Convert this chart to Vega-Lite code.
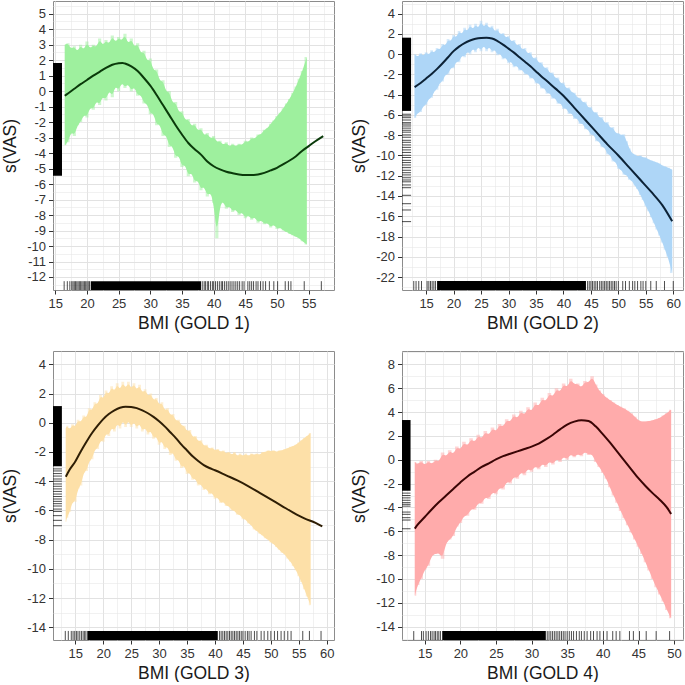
{
"$schema": "https://vega.github.io/schema/vega-lite/v6.json",
"padding": 0,
"background": "white",
"columns": 2,
"spacing": {"row": 18, "column": 14},
"config": {
  "view": {"stroke": "#8c8c8c", "strokeWidth": 1},
  "axis": {"labelFont": "Liberation Sans", "labelFontSize": 13, "labelColor": "#333333", "titleFont": "Liberation Sans", "titleFontSize": 17.5, "titleFontWeight": "normal", "titleColor": "#1a1a1a", "tickColor": "#333333", "domain": false, "gridColor": "#e2e2e2", "labelOverlap": false, "labelFlush": false, "labelBound": false},
  "axisY": {"minExtent": 31, "maxExtent": 31, "titlePadding": 3, "labelPadding": 3, "tickSize": 4.5},
  "axisX": {"titlePadding": 4, "labelPadding": 3, "tickSize": 4}
},
"datasets": {
  "band": [
    {"g":1,"x":16.5,"hi":3.0,"lo":-3.5},{"g":1,"x":17.0,"hi":3.1,"lo":-3.3},{"g":1,"x":17.5,"hi":2.7,"lo":-2.6},{"g":1,"x":18.0,"hi":2.9,"lo":-2.9},{"g":1,"x":18.5,"hi":2.5,"lo":-2.2},{"g":1,"x":19.0,"hi":3.0,"lo":-2.0},{"g":1,"x":19.5,"hi":2.6,"lo":-1.5},{"g":1,"x":20.0,"hi":3.2,"lo":-1.7},{"g":1,"x":20.5,"hi":2.7,"lo":-1.0},{"g":1,"x":21.0,"hi":3.0,"lo":-1.2},{"g":1,"x":21.5,"hi":2.8,"lo":-0.6},{"g":1,"x":22.0,"hi":3.4,"lo":-0.9},{"g":1,"x":22.5,"hi":2.9,"lo":-0.3},{"g":1,"x":23.0,"hi":3.3,"lo":-0.6},{"g":1,"x":23.5,"hi":3.0,"lo":0.1},{"g":1,"x":24.0,"hi":3.6,"lo":-0.4},{"g":1,"x":24.5,"hi":3.1,"lo":0.4},{"g":1,"x":25.0,"hi":3.5,"lo":0.0},{"g":1,"x":25.5,"hi":3.2,"lo":0.6},{"g":1,"x":26.0,"hi":3.7,"lo":0.2},{"g":1,"x":26.5,"hi":3.0,"lo":0.5},{"g":1,"x":27.0,"hi":3.4,"lo":0.0},{"g":1,"x":27.5,"hi":2.8,"lo":0.3},{"g":1,"x":28.0,"hi":3.1,"lo":-0.3},{"g":1,"x":28.5,"hi":2.4,"lo":-0.2},{"g":1,"x":29.0,"hi":2.6,"lo":-0.8},{"g":1,"x":29.5,"hi":1.9,"lo":-0.8},{"g":1,"x":30.0,"hi":2.1,"lo":-1.5},{"g":1,"x":30.5,"hi":1.3,"lo":-1.4},{"g":1,"x":31.0,"hi":1.4,"lo":-2.2},{"g":1,"x":31.5,"hi":0.6,"lo":-2.1},{"g":1,"x":32.0,"hi":0.7,"lo":-2.9},{"g":1,"x":32.5,"hi":-0.1,"lo":-2.8},{"g":1,"x":33.0,"hi":0.0,"lo":-3.6},{"g":1,"x":33.5,"hi":-0.8,"lo":-3.5},{"g":1,"x":34.0,"hi":-0.7,"lo":-4.3},{"g":1,"x":34.5,"hi":-1.4,"lo":-4.1},{"g":1,"x":35.0,"hi":-1.3,"lo":-4.9},{"g":1,"x":35.5,"hi":-1.9,"lo":-4.7},{"g":1,"x":36.0,"hi":-1.8,"lo":-5.5},{"g":1,"x":36.5,"hi":-2.3,"lo":-5.2},{"g":1,"x":37.0,"hi":-2.1,"lo":-5.9},{"g":1,"x":37.5,"hi":-2.6,"lo":-5.7},{"g":1,"x":38.0,"hi":-2.4,"lo":-6.4},{"g":1,"x":38.5,"hi":-2.9,"lo":-6.1},{"g":1,"x":39.0,"hi":-2.7,"lo":-6.8},{"g":1,"x":39.5,"hi":-3.1,"lo":-6.5},{"g":1,"x":40.0,"hi":-2.9,"lo":-7.2},{"g":1,"x":40.5,"hi":-3.3,"lo":-9.5},{"g":1,"x":41.0,"hi":-3.2,"lo":-7.3},{"g":1,"x":41.5,"hi":-3.5,"lo":-7.1},{"g":1,"x":42.0,"hi":-3.3,"lo":-7.6},{"g":1,"x":42.5,"hi":-3.6,"lo":-7.4},{"g":1,"x":43.0,"hi":-3.4,"lo":-7.8},{"g":1,"x":43.5,"hi":-3.6,"lo":-7.6},{"g":1,"x":44.0,"hi":-3.4,"lo":-8.0},{"g":1,"x":44.5,"hi":-3.5,"lo":-7.8},{"g":1,"x":45.0,"hi":-3.2,"lo":-8.2},{"g":1,"x":45.5,"hi":-3.3,"lo":-8.0},{"g":1,"x":46.0,"hi":-3.0,"lo":-8.3},{"g":1,"x":46.5,"hi":-3.1,"lo":-8.1},{"g":1,"x":47.0,"hi":-2.8,"lo":-8.5},{"g":1,"x":47.5,"hi":-2.8,"lo":-8.3},{"g":1,"x":48.0,"hi":-2.5,"lo":-8.6},{"g":1,"x":48.5,"hi":-2.4,"lo":-8.5},{"g":1,"x":49.0,"hi":-2.1,"lo":-8.8},{"g":1,"x":49.5,"hi":-1.9,"lo":-8.6},{"g":1,"x":50.0,"hi":-1.6,"lo":-8.9},{"g":1,"x":50.5,"hi":-1.4,"lo":-8.8},{"g":1,"x":51.0,"hi":-1.1,"lo":-9.0},{"g":1,"x":51.5,"hi":-0.8,"lo":-9.1},{"g":1,"x":52.0,"hi":-0.5,"lo":-9.2},{"g":1,"x":52.5,"hi":-0.1,"lo":-9.3},{"g":1,"x":53.0,"hi":0.3,"lo":-9.4},{"g":1,"x":53.5,"hi":0.8,"lo":-9.5},{"g":1,"x":54.0,"hi":1.3,"lo":-9.7},{"g":1,"x":54.7,"hi":2.2,"lo":-9.9},

    {"g":2,"x":12.9,"hi":0.0,"lo":-6.3},{"g":2,"x":13.5,"hi":-0.3,"lo":-5.8},{"g":2,"x":14.0,"hi":0.1,"lo":-5.7},{"g":2,"x":14.5,"hi":-0.2,"lo":-5.1},{"g":2,"x":15.0,"hi":0.2,"lo":-5.0},{"g":2,"x":15.5,"hi":-0.1,"lo":-4.4},{"g":2,"x":16.0,"hi":0.4,"lo":-4.3},{"g":2,"x":16.5,"hi":0.1,"lo":-3.6},{"g":2,"x":17.0,"hi":0.6,"lo":-3.5},{"g":2,"x":17.5,"hi":0.4,"lo":-2.8},{"g":2,"x":18.0,"hi":1.0,"lo":-2.7},{"g":2,"x":18.5,"hi":0.8,"lo":-2.0},{"g":2,"x":19.0,"hi":1.5,"lo":-2.0},{"g":2,"x":19.5,"hi":1.2,"lo":-1.3},{"g":2,"x":20.0,"hi":1.9,"lo":-1.4},{"g":2,"x":20.5,"hi":1.6,"lo":-0.7},{"g":2,"x":21.0,"hi":2.3,"lo":-0.8},{"g":2,"x":21.5,"hi":1.9,"lo":-0.1},{"g":2,"x":22.0,"hi":2.6,"lo":-0.3},{"g":2,"x":22.5,"hi":2.2,"lo":0.3},{"g":2,"x":23.0,"hi":2.9,"lo":0.0},{"g":2,"x":23.5,"hi":2.4,"lo":0.6},{"g":2,"x":24.0,"hi":3.0,"lo":0.2},{"g":2,"x":24.5,"hi":2.5,"lo":0.8},{"g":2,"x":25.0,"hi":3.3,"lo":0.3},{"g":2,"x":25.5,"hi":2.6,"lo":0.9},{"g":2,"x":26.0,"hi":3.1,"lo":0.3},{"g":2,"x":26.5,"hi":2.5,"lo":0.8},{"g":2,"x":27.0,"hi":2.8,"lo":0.2},{"g":2,"x":27.5,"hi":2.2,"lo":0.5},{"g":2,"x":28.0,"hi":2.5,"lo":-0.1},{"g":2,"x":28.5,"hi":1.9,"lo":0.1},{"g":2,"x":29.0,"hi":2.1,"lo":-0.5},{"g":2,"x":29.5,"hi":1.6,"lo":-0.3},{"g":2,"x":30.0,"hi":1.8,"lo":-0.9},{"g":2,"x":30.5,"hi":1.2,"lo":-0.7},{"g":2,"x":31.0,"hi":1.4,"lo":-1.3},{"g":2,"x":31.5,"hi":0.8,"lo":-1.1},{"g":2,"x":32.0,"hi":1.0,"lo":-1.6},{"g":2,"x":32.5,"hi":0.4,"lo":-1.5},{"g":2,"x":33.0,"hi":0.6,"lo":-2.0},{"g":2,"x":33.5,"hi":0.0,"lo":-1.9},{"g":2,"x":34.0,"hi":0.2,"lo":-2.4},{"g":2,"x":34.5,"hi":-0.5,"lo":-2.3},{"g":2,"x":35.0,"hi":-0.3,"lo":-2.9},{"g":2,"x":35.5,"hi":-0.9,"lo":-2.8},{"g":2,"x":36.0,"hi":-0.8,"lo":-3.4},{"g":2,"x":36.5,"hi":-1.4,"lo":-3.3},{"g":2,"x":37.0,"hi":-1.3,"lo":-3.9},{"g":2,"x":37.5,"hi":-1.9,"lo":-3.8},{"g":2,"x":38.0,"hi":-1.8,"lo":-4.4},{"g":2,"x":38.5,"hi":-2.4,"lo":-4.3},{"g":2,"x":39.0,"hi":-2.3,"lo":-4.9},{"g":2,"x":39.5,"hi":-2.9,"lo":-4.8},{"g":2,"x":40.0,"hi":-2.8,"lo":-5.4},{"g":2,"x":40.5,"hi":-3.4,"lo":-5.3},{"g":2,"x":41.0,"hi":-3.3,"lo":-5.9},{"g":2,"x":41.5,"hi":-3.8,"lo":-5.8},{"g":2,"x":42.0,"hi":-3.8,"lo":-6.4},{"g":2,"x":42.5,"hi":-4.3,"lo":-6.3},{"g":2,"x":43.0,"hi":-4.3,"lo":-6.9},{"g":2,"x":43.5,"hi":-4.8,"lo":-6.8},{"g":2,"x":44.0,"hi":-4.7,"lo":-7.4},{"g":2,"x":44.5,"hi":-5.3,"lo":-7.4},{"g":2,"x":45.0,"hi":-5.2,"lo":-8.0},{"g":2,"x":45.5,"hi":-5.8,"lo":-7.9},{"g":2,"x":46.0,"hi":-5.7,"lo":-8.6},{"g":2,"x":46.5,"hi":-6.3,"lo":-8.6},{"g":2,"x":47.0,"hi":-6.2,"lo":-9.2},{"g":2,"x":47.5,"hi":-6.8,"lo":-9.2},{"g":2,"x":48.0,"hi":-6.7,"lo":-9.9},{"g":2,"x":48.5,"hi":-7.3,"lo":-9.9},{"g":2,"x":49.0,"hi":-7.2,"lo":-10.6},{"g":2,"x":49.5,"hi":-7.8,"lo":-10.6},{"g":2,"x":50.0,"hi":-7.8,"lo":-11.3},{"g":2,"x":50.5,"hi":-8.0,"lo":-11.4},{"g":2,"x":51.0,"hi":-7.9,"lo":-11.9},{"g":2,"x":51.5,"hi":-8.6,"lo":-11.9},{"g":2,"x":52.0,"hi":-9.3,"lo":-12.4},{"g":2,"x":52.5,"hi":-9.8,"lo":-12.5},{"g":2,"x":53.0,"hi":-9.9,"lo":-13.0},{"g":2,"x":53.5,"hi":-10.1,"lo":-13.3},{"g":2,"x":54.0,"hi":-10.0,"lo":-13.9},{"g":2,"x":54.5,"hi":-10.2,"lo":-14.4},{"g":2,"x":55.0,"hi":-10.2,"lo":-15.0},{"g":2,"x":55.5,"hi":-10.4,"lo":-15.5},{"g":2,"x":56.0,"hi":-10.5,"lo":-16.1},{"g":2,"x":56.5,"hi":-10.6,"lo":-16.7},{"g":2,"x":57.0,"hi":-10.7,"lo":-17.3},{"g":2,"x":57.5,"hi":-10.8,"lo":-17.9},{"g":2,"x":58.0,"hi":-11.0,"lo":-18.6},{"g":2,"x":58.5,"hi":-11.1,"lo":-19.3},{"g":2,"x":59.0,"hi":-11.2,"lo":-20.0},{"g":2,"x":59.8,"hi":-11.4,"lo":-21.6},

    {"g":3,"x":13.3,"hi":-0.4,"lo":-6.8},{"g":3,"x":13.5,"hi":-0.2,"lo":-6.5},{"g":3,"x":14.0,"hi":-0.5,"lo":-6.1},{"g":3,"x":14.5,"hi":-0.1,"lo":-5.4},{"g":3,"x":15.0,"hi":-0.3,"lo":-5.4},{"g":3,"x":15.5,"hi":0.2,"lo":-4.5},{"g":3,"x":16.0,"hi":0.0,"lo":-4.3},{"g":3,"x":16.5,"hi":0.5,"lo":-3.4},{"g":3,"x":17.0,"hi":0.3,"lo":-3.3},{"g":3,"x":17.5,"hi":1.0,"lo":-2.6},{"g":3,"x":18.0,"hi":0.8,"lo":-2.5},{"g":3,"x":18.5,"hi":1.4,"lo":-1.8},{"g":3,"x":19.0,"hi":1.2,"lo":-1.8},{"g":3,"x":19.5,"hi":1.9,"lo":-1.2},{"g":3,"x":20.0,"hi":1.6,"lo":-1.3},{"g":3,"x":20.5,"hi":2.2,"lo":-0.7},{"g":3,"x":21.0,"hi":1.9,"lo":-0.9},{"g":3,"x":21.5,"hi":2.5,"lo":-0.3},{"g":3,"x":22.0,"hi":2.1,"lo":-0.6},{"g":3,"x":22.5,"hi":2.7,"lo":0.0},{"g":3,"x":23.0,"hi":2.2,"lo":-0.4},{"g":3,"x":23.5,"hi":2.8,"lo":0.2},{"g":3,"x":24.0,"hi":2.3,"lo":-0.3},{"g":3,"x":24.5,"hi":2.8,"lo":0.2},{"g":3,"x":25.0,"hi":2.3,"lo":-0.3},{"g":3,"x":25.5,"hi":2.7,"lo":0.1},{"g":3,"x":26.0,"hi":2.2,"lo":-0.4},{"g":3,"x":26.5,"hi":2.6,"lo":0.0},{"g":3,"x":27.0,"hi":2.0,"lo":-0.6},{"g":3,"x":27.5,"hi":2.3,"lo":-0.3},{"g":3,"x":28.0,"hi":1.8,"lo":-0.8},{"g":3,"x":28.5,"hi":2.0,"lo":-0.5},{"g":3,"x":29.0,"hi":1.5,"lo":-1.1},{"g":3,"x":29.5,"hi":1.7,"lo":-0.9},{"g":3,"x":30.0,"hi":1.2,"lo":-1.5},{"g":3,"x":30.5,"hi":1.4,"lo":-1.2},{"g":3,"x":31.0,"hi":0.8,"lo":-1.8},{"g":3,"x":31.5,"hi":1.0,"lo":-1.6},{"g":3,"x":32.0,"hi":0.5,"lo":-2.2},{"g":3,"x":32.5,"hi":0.6,"lo":-2.0},{"g":3,"x":33.0,"hi":0.1,"lo":-2.6},{"g":3,"x":33.5,"hi":0.2,"lo":-2.5},{"g":3,"x":34.0,"hi":-0.2,"lo":-3.1},{"g":3,"x":34.5,"hi":-0.2,"lo":-2.9},{"g":3,"x":35.0,"hi":-0.6,"lo":-3.5},{"g":3,"x":35.5,"hi":-0.5,"lo":-3.4},{"g":3,"x":36.0,"hi":-1.0,"lo":-3.9},{"g":3,"x":36.5,"hi":-0.9,"lo":-3.8},{"g":3,"x":37.0,"hi":-1.3,"lo":-4.3},{"g":3,"x":37.5,"hi":-1.2,"lo":-4.2},{"g":3,"x":38.0,"hi":-1.6,"lo":-4.6},{"g":3,"x":38.5,"hi":-1.5,"lo":-4.5},{"g":3,"x":39.0,"hi":-1.8,"lo":-4.9},{"g":3,"x":39.5,"hi":-1.7,"lo":-4.8},{"g":3,"x":40.0,"hi":-1.9,"lo":-5.2},{"g":3,"x":40.5,"hi":-1.8,"lo":-5.1},{"g":3,"x":41.0,"hi":-2.0,"lo":-5.5},{"g":3,"x":41.5,"hi":-1.9,"lo":-5.4},{"g":3,"x":42.0,"hi":-2.1,"lo":-5.7},{"g":3,"x":42.5,"hi":-2.0,"lo":-5.7},{"g":3,"x":43.0,"hi":-2.2,"lo":-6.0},{"g":3,"x":43.5,"hi":-2.0,"lo":-6.0},{"g":3,"x":44.0,"hi":-2.3,"lo":-6.3},{"g":3,"x":44.5,"hi":-2.1,"lo":-6.3},{"g":3,"x":45.0,"hi":-2.3,"lo":-6.6},{"g":3,"x":45.5,"hi":-2.1,"lo":-6.6},{"g":3,"x":46.0,"hi":-2.3,"lo":-6.9},{"g":3,"x":46.5,"hi":-2.1,"lo":-7.0},{"g":3,"x":47.0,"hi":-2.2,"lo":-7.3},{"g":3,"x":47.5,"hi":-2.1,"lo":-7.4},{"g":3,"x":48.0,"hi":-2.2,"lo":-7.6},{"g":3,"x":48.5,"hi":-2.0,"lo":-7.7},{"g":3,"x":49.0,"hi":-2.0,"lo":-7.9},{"g":3,"x":49.5,"hi":-1.9,"lo":-8.0},{"g":3,"x":50.0,"hi":-1.95,"lo":-8.2},{"g":3,"x":50.5,"hi":-1.9,"lo":-8.3},{"g":3,"x":51.0,"hi":-2.0,"lo":-8.5},{"g":3,"x":51.5,"hi":-1.9,"lo":-8.7},{"g":3,"x":52.0,"hi":-1.9,"lo":-8.9},{"g":3,"x":52.5,"hi":-1.8,"lo":-9.0},{"g":3,"x":53.0,"hi":-1.75,"lo":-9.3},{"g":3,"x":53.5,"hi":-1.65,"lo":-9.5},{"g":3,"x":54.0,"hi":-1.6,"lo":-9.8},{"g":3,"x":54.5,"hi":-1.5,"lo":-10.1},{"g":3,"x":55.0,"hi":-1.35,"lo":-10.5},{"g":3,"x":55.5,"hi":-1.2,"lo":-10.9},{"g":3,"x":56.0,"hi":-1.05,"lo":-11.4},{"g":3,"x":56.5,"hi":-0.9,"lo":-11.9},{"g":3,"x":57.1,"hi":-0.7,"lo":-12.5},

    {"g":4,"x":13.6,"hi":-0.2,"lo":-11.4},{"g":4,"x":14.0,"hi":-0.4,"lo":-10.5},{"g":4,"x":14.5,"hi":-0.1,"lo":-10.0},{"g":4,"x":15.0,"hi":-0.5,"lo":-9.2},{"g":4,"x":15.5,"hi":-0.1,"lo":-8.9},{"g":4,"x":16.0,"hi":-0.4,"lo":-8.0},{"g":4,"x":16.5,"hi":0.0,"lo":-7.9},{"g":4,"x":17.0,"hi":-0.2,"lo":-7.8},{"g":4,"x":17.5,"hi":0.6,"lo":-8.3},{"g":4,"x":18.0,"hi":0.2,"lo":-6.9},{"g":4,"x":18.5,"hi":0.8,"lo":-6.7},{"g":4,"x":19.0,"hi":0.4,"lo":-6.4},{"g":4,"x":19.5,"hi":1.1,"lo":-5.6},{"g":4,"x":20.0,"hi":0.8,"lo":-5.3},{"g":4,"x":20.5,"hi":1.5,"lo":-4.7},{"g":4,"x":21.0,"hi":1.1,"lo":-4.7},{"g":4,"x":21.5,"hi":1.8,"lo":-4.1},{"g":4,"x":22.0,"hi":1.4,"lo":-4.2},{"g":4,"x":22.5,"hi":2.1,"lo":-3.6},{"g":4,"x":23.0,"hi":1.7,"lo":-3.7},{"g":4,"x":23.5,"hi":2.4,"lo":-3.1},{"g":4,"x":24.0,"hi":2.0,"lo":-3.3},{"g":4,"x":24.5,"hi":2.7,"lo":-2.7},{"g":4,"x":25.0,"hi":2.3,"lo":-2.9},{"g":4,"x":25.5,"hi":3.0,"lo":-2.3},{"g":4,"x":26.0,"hi":2.7,"lo":-2.5},{"g":4,"x":26.5,"hi":3.4,"lo":-1.8},{"g":4,"x":27.0,"hi":3.1,"lo":-2.0},{"g":4,"x":27.5,"hi":3.8,"lo":-1.4},{"g":4,"x":28.0,"hi":3.4,"lo":-1.6},{"g":4,"x":28.5,"hi":4.1,"lo":-1.0},{"g":4,"x":29.0,"hi":3.7,"lo":-1.3},{"g":4,"x":29.5,"hi":4.4,"lo":-0.7},{"g":4,"x":30.0,"hi":4.0,"lo":-1.0},{"g":4,"x":30.5,"hi":4.8,"lo":-0.5},{"g":4,"x":31.0,"hi":4.4,"lo":-0.8},{"g":4,"x":31.5,"hi":5.2,"lo":-0.3},{"g":4,"x":32.0,"hi":4.8,"lo":-0.6},{"g":4,"x":32.5,"hi":5.6,"lo":-0.1},{"g":4,"x":33.0,"hi":5.2,"lo":-0.4},{"g":4,"x":33.5,"hi":6.0,"lo":0.1},{"g":4,"x":34.0,"hi":5.6,"lo":-0.2},{"g":4,"x":34.5,"hi":6.4,"lo":0.3},{"g":4,"x":35.0,"hi":6.0,"lo":0.0},{"g":4,"x":35.5,"hi":6.8,"lo":0.5},{"g":4,"x":36.0,"hi":6.3,"lo":0.2},{"g":4,"x":36.5,"hi":6.4,"lo":0.5},{"g":4,"x":37.0,"hi":6.0,"lo":0.3},{"g":4,"x":37.5,"hi":6.6,"lo":0.7},{"g":4,"x":38.0,"hi":6.4,"lo":0.4},{"g":4,"x":38.5,"hi":7.0,"lo":0.5},{"g":4,"x":39.0,"hi":6.3,"lo":-0.2},{"g":4,"x":39.5,"hi":5.8,"lo":-0.6},{"g":4,"x":40.0,"hi":5.5,"lo":-1.1},{"g":4,"x":40.5,"hi":5.2,"lo":-1.6},{"g":4,"x":41.0,"hi":5.0,"lo":-2.3},{"g":4,"x":41.5,"hi":4.8,"lo":-3.0},{"g":4,"x":42.0,"hi":4.6,"lo":-3.6},{"g":4,"x":42.5,"hi":4.45,"lo":-4.3},{"g":4,"x":43.0,"hi":4.3,"lo":-4.9},{"g":4,"x":43.5,"hi":4.1,"lo":-5.5},{"g":4,"x":44.0,"hi":3.9,"lo":-6.1},{"g":4,"x":44.5,"hi":3.6,"lo":-6.7},{"g":4,"x":45.0,"hi":3.3,"lo":-7.3},{"g":4,"x":45.5,"hi":3.2,"lo":-7.9},{"g":4,"x":46.0,"hi":3.2,"lo":-8.6},{"g":4,"x":46.5,"hi":3.25,"lo":-9.3},{"g":4,"x":47.0,"hi":3.3,"lo":-10.0},{"g":4,"x":47.5,"hi":3.4,"lo":-10.7},{"g":4,"x":48.0,"hi":3.5,"lo":-11.3},{"g":4,"x":48.5,"hi":3.7,"lo":-11.9},{"g":4,"x":49.0,"hi":3.9,"lo":-12.6},{"g":4,"x":49.6,"hi":4.2,"lo":-13.3}
  ],
  "fit": [
    {"g":1,"x":16.5,"y":-0.3},{"g":1,"x":17,"y":-0.15},{"g":1,"x":18,"y":0.15},{"g":1,"x":19,"y":0.45},{"g":1,"x":20,"y":0.72},{"g":1,"x":21,"y":1.0},{"g":1,"x":22,"y":1.25},{"g":1,"x":23,"y":1.5},{"g":1,"x":24,"y":1.7},{"g":1,"x":25,"y":1.8},{"g":1,"x":25.6,"y":1.82},{"g":1,"x":26,"y":1.78},{"g":1,"x":27,"y":1.6},{"g":1,"x":28,"y":1.3},{"g":1,"x":29,"y":0.85},{"g":1,"x":30,"y":0.35},{"g":1,"x":31,"y":-0.25},{"g":1,"x":32,"y":-0.9},{"g":1,"x":33,"y":-1.55},{"g":1,"x":34,"y":-2.2},{"g":1,"x":35,"y":-2.8},{"g":1,"x":36,"y":-3.35},{"g":1,"x":37,"y":-3.75},{"g":1,"x":38,"y":-4.1},{"g":1,"x":39,"y":-4.55},{"g":1,"x":40,"y":-4.85},{"g":1,"x":41,"y":-5.05},{"g":1,"x":42,"y":-5.2},{"g":1,"x":43,"y":-5.3},{"g":1,"x":44,"y":-5.38},{"g":1,"x":45,"y":-5.42},{"g":1,"x":46,"y":-5.42},{"g":1,"x":47,"y":-5.38},{"g":1,"x":48,"y":-5.28},{"g":1,"x":49,"y":-5.12},{"g":1,"x":50,"y":-4.95},{"g":1,"x":51,"y":-4.72},{"g":1,"x":52,"y":-4.48},{"g":1,"x":53,"y":-4.2},{"g":1,"x":54,"y":-3.85},{"g":1,"x":55,"y":-3.55},{"g":1,"x":56,"y":-3.25},{"g":1,"x":57.3,"y":-2.9},

    {"g":2,"x":12.9,"y":-3.25},{"g":2,"x":14,"y":-2.85},{"g":2,"x":15,"y":-2.4},{"g":2,"x":16,"y":-1.95},{"g":2,"x":17,"y":-1.45},{"g":2,"x":18,"y":-0.9},{"g":2,"x":19,"y":-0.3},{"g":2,"x":20,"y":0.3},{"g":2,"x":21,"y":0.75},{"g":2,"x":22,"y":1.1},{"g":2,"x":23,"y":1.35},{"g":2,"x":24,"y":1.52},{"g":2,"x":25,"y":1.6},{"g":2,"x":26,"y":1.62},{"g":2,"x":27,"y":1.55},{"g":2,"x":28,"y":1.3},{"g":2,"x":29,"y":0.95},{"g":2,"x":30,"y":0.55},{"g":2,"x":31,"y":0.15},{"g":2,"x":32,"y":-0.3},{"g":2,"x":33,"y":-0.75},{"g":2,"x":34,"y":-1.2},{"g":2,"x":35,"y":-1.7},{"g":2,"x":36,"y":-2.2},{"g":2,"x":37,"y":-2.65},{"g":2,"x":38,"y":-3.15},{"g":2,"x":39,"y":-3.6},{"g":2,"x":40,"y":-4.1},{"g":2,"x":42,"y":-5.3},{"g":2,"x":44,"y":-6.5},{"g":2,"x":46,"y":-7.7},{"g":2,"x":48,"y":-8.9},{"g":2,"x":50,"y":-10.0},{"g":2,"x":52,"y":-11.2},{"g":2,"x":54,"y":-12.4},{"g":2,"x":56,"y":-13.6},{"g":2,"x":58,"y":-14.9},{"g":2,"x":59.8,"y":-16.5},

    {"g":3,"x":13.3,"y":-3.7},{"g":3,"x":14,"y":-3.2},{"g":3,"x":15,"y":-2.65},{"g":3,"x":16,"y":-1.95},{"g":3,"x":17,"y":-1.3},{"g":3,"x":18,"y":-0.7},{"g":3,"x":19,"y":-0.2},{"g":3,"x":20,"y":0.25},{"g":3,"x":21,"y":0.6},{"g":3,"x":22,"y":0.85},{"g":3,"x":23,"y":1.03},{"g":3,"x":24,"y":1.1},{"g":3,"x":25,"y":1.08},{"g":3,"x":26,"y":1.0},{"g":3,"x":27,"y":0.85},{"g":3,"x":28,"y":0.65},{"g":3,"x":29,"y":0.4},{"g":3,"x":30,"y":0.1},{"g":3,"x":31,"y":-0.25},{"g":3,"x":32,"y":-0.65},{"g":3,"x":33,"y":-1.05},{"g":3,"x":34,"y":-1.5},{"g":3,"x":35,"y":-1.9},{"g":3,"x":36,"y":-2.3},{"g":3,"x":37,"y":-2.62},{"g":3,"x":38,"y":-2.9},{"g":3,"x":39,"y":-3.1},{"g":3,"x":40,"y":-3.25},{"g":3,"x":42,"y":-3.6},{"g":3,"x":44,"y":-3.95},{"g":3,"x":46,"y":-4.35},{"g":3,"x":48,"y":-4.8},{"g":3,"x":50,"y":-5.25},{"g":3,"x":52,"y":-5.7},{"g":3,"x":54,"y":-6.15},{"g":3,"x":56,"y":-6.55},{"g":3,"x":58,"y":-6.85},{"g":3,"x":59.2,"y":-7.1},

    {"g":4,"x":13.6,"y":-5.78},{"g":4,"x":14,"y":-5.45},{"g":4,"x":15,"y":-4.8},{"g":4,"x":16,"y":-4.15},{"g":4,"x":17,"y":-3.55},{"g":4,"x":18,"y":-3.0},{"g":4,"x":19,"y":-2.45},{"g":4,"x":20,"y":-1.9},{"g":4,"x":21,"y":-1.4},{"g":4,"x":22,"y":-1.0},{"g":4,"x":23,"y":-0.6},{"g":4,"x":24,"y":-0.3},{"g":4,"x":25,"y":0.03},{"g":4,"x":26,"y":0.3},{"g":4,"x":27,"y":0.5},{"g":4,"x":28,"y":0.7},{"g":4,"x":29,"y":0.9},{"g":4,"x":30,"y":1.1},{"g":4,"x":31,"y":1.35},{"g":4,"x":32,"y":1.7},{"g":4,"x":33,"y":2.1},{"g":4,"x":34,"y":2.55},{"g":4,"x":35,"y":2.95},{"g":4,"x":36,"y":3.2},{"g":4,"x":37,"y":3.32},{"g":4,"x":38,"y":3.25},{"g":4,"x":39,"y":2.8},{"g":4,"x":40,"y":2.15},{"g":4,"x":41,"y":1.45},{"g":4,"x":42,"y":0.7},{"g":4,"x":43,"y":-0.05},{"g":4,"x":44,"y":-0.8},{"g":4,"x":45,"y":-1.55},{"g":4,"x":46,"y":-2.2},{"g":4,"x":47,"y":-2.8},{"g":4,"x":48,"y":-3.35},{"g":4,"x":49,"y":-4.0},{"g":4,"x":49.6,"y":-4.55}
  ],
  "rugx": [
    {"g":1,"x":16.4},{"g":1,"x":16.9},{"g":1,"x":17.3},{"g":1,"x":17.6},{"g":1,"x":17.8},{"g":1,"x":18.0},{"g":1,"x":18.2},{"g":1,"x":18.4},{"g":1,"x":18.6},{"g":1,"x":18.8},{"g":1,"x":19.0},{"g":1,"x":19.2},{"g":1,"x":19.4},{"g":1,"x":19.6},{"g":1,"x":19.8},{"g":1,"x":20.0},{"g":1,"x":20.2},{"g":1,"x":20.4},{"g":1,"x":38.2},{"g":1,"x":38.5},{"g":1,"x":38.7},{"g":1,"x":39.0},{"g":1,"x":39.2},{"g":1,"x":39.5},{"g":1,"x":39.8},{"g":1,"x":40.0},{"g":1,"x":40.3},{"g":1,"x":40.6},{"g":1,"x":40.9},{"g":1,"x":41.2},{"g":1,"x":41.4},{"g":1,"x":41.7},{"g":1,"x":42.0},{"g":1,"x":42.3},{"g":1,"x":42.6},{"g":1,"x":42.9},{"g":1,"x":43.2},{"g":1,"x":43.5},{"g":1,"x":43.8},{"g":1,"x":44.1},{"g":1,"x":44.5},{"g":1,"x":44.8},{"g":1,"x":45.4},{"g":1,"x":45.7},{"g":1,"x":46.0},{"g":1,"x":46.3},{"g":1,"x":46.7},{"g":1,"x":47.0},{"g":1,"x":47.4},{"g":1,"x":47.8},{"g":1,"x":48.2},{"g":1,"x":48.8},{"g":1,"x":49.5},{"g":1,"x":50.1},{"g":1,"x":51.3},{"g":1,"x":51.8},{"g":1,"x":52.2},{"g":1,"x":54.3},{"g":1,"x":57.0},
    {"g":2,"x":12.75},{"g":2,"x":13.17},{"g":2,"x":13.66},{"g":2,"x":14.16},{"g":2,"x":15.18},{"g":2,"x":15.5},{"g":2,"x":15.8},{"g":2,"x":16.1},{"g":2,"x":16.41},{"g":2,"x":16.7},{"g":2,"x":44.4},{"g":2,"x":44.7},{"g":2,"x":45.0},{"g":2,"x":45.3},{"g":2,"x":45.6},{"g":2,"x":45.9},{"g":2,"x":46.2},{"g":2,"x":46.6},{"g":2,"x":46.9},{"g":2,"x":47.2},{"g":2,"x":47.5},{"g":2,"x":47.8},{"g":2,"x":48.1},{"g":2,"x":48.4},{"g":2,"x":48.7},{"g":2,"x":49.0},{"g":2,"x":49.3},{"g":2,"x":49.6},{"g":2,"x":50.0},{"g":2,"x":50.8},{"g":2,"x":51.3},{"g":2,"x":52.0},{"g":2,"x":52.6},{"g":2,"x":53.0},{"g":2,"x":53.5},{"g":2,"x":54.1},{"g":2,"x":54.5},{"g":2,"x":55.0},{"g":2,"x":55.9},{"g":2,"x":56.9},{"g":2,"x":58.4},{"g":2,"x":60.0},
    {"g":3,"x":13.21},{"g":3,"x":13.75},{"g":3,"x":14.28},{"g":3,"x":14.6},{"g":3,"x":14.9},{"g":3,"x":15.2},{"g":3,"x":15.48},{"g":3,"x":15.8},{"g":3,"x":16.1},{"g":3,"x":16.4},{"g":3,"x":16.67},{"g":3,"x":16.9},{"g":3,"x":40.8},{"g":3,"x":41.1},{"g":3,"x":41.4},{"g":3,"x":41.7},{"g":3,"x":42.0},{"g":3,"x":42.3},{"g":3,"x":42.6},{"g":3,"x":42.9},{"g":3,"x":43.2},{"g":3,"x":43.5},{"g":3,"x":43.8},{"g":3,"x":44.1},{"g":3,"x":44.4},{"g":3,"x":44.7},{"g":3,"x":45.0},{"g":3,"x":45.4},{"g":3,"x":45.8},{"g":3,"x":46.1},{"g":3,"x":46.47},{"g":3,"x":47.06},{"g":3,"x":47.5},{"g":3,"x":48.26},{"g":3,"x":48.8},{"g":3,"x":49.45},{"g":3,"x":50.0},{"g":3,"x":50.64},{"g":3,"x":51.2},{"g":3,"x":51.83},{"g":3,"x":52.4},{"g":3,"x":53.03},{"g":3,"x":53.62},{"g":3,"x":55.71},{"g":3,"x":56.9},{"g":3,"x":58.98},
    {"g":4,"x":13.45},{"g":4,"x":14.54},{"g":4,"x":14.8},{"g":4,"x":15.18},{"g":4,"x":15.5},{"g":4,"x":15.8},{"g":4,"x":16.03},{"g":4,"x":16.3},{"g":4,"x":16.5},{"g":4,"x":16.75},{"g":4,"x":16.97},{"g":4,"x":17.2},{"g":4,"x":32.2},{"g":4,"x":32.45},{"g":4,"x":32.7},{"g":4,"x":32.95},{"g":4,"x":33.2},{"g":4,"x":33.45},{"g":4,"x":33.7},{"g":4,"x":33.95},{"g":4,"x":34.2},{"g":4,"x":34.45},{"g":4,"x":34.7},{"g":4,"x":35.0},{"g":4,"x":35.3},{"g":4,"x":35.6},{"g":4,"x":35.9},{"g":4,"x":36.3},{"g":4,"x":36.7},{"g":4,"x":37.0},{"g":4,"x":37.4},{"g":4,"x":37.8},{"g":4,"x":38.3},{"g":4,"x":38.7},{"g":4,"x":39.2},{"g":4,"x":39.6},{"g":4,"x":40.1},{"g":4,"x":40.6},{"g":4,"x":41.4},{"g":4,"x":41.88},{"g":4,"x":42.4},{"g":4,"x":43.75},{"g":4,"x":44.3},{"g":4,"x":45.16},{"g":4,"x":46.1},{"g":4,"x":47.5},{"g":4,"x":49.39}
  ],
  "rugy": [
    {"g":2,"y":-5.93},{"g":2,"y":-6.1},{"g":2,"y":-6.27},{"g":2,"y":-6.5},{"g":2,"y":-6.76},{"g":2,"y":-6.9},{"g":2,"y":-7.09},{"g":2,"y":-7.3},{"g":2,"y":-7.51},{"g":2,"y":-7.7},{"g":2,"y":-7.97},{"g":2,"y":-8.2},{"g":2,"y":-8.5},{"g":2,"y":-8.7},{"g":2,"y":-8.96},{"g":2,"y":-9.2},{"g":2,"y":-9.45},{"g":2,"y":-9.7},{"g":2,"y":-9.98},{"g":2,"y":-10.2},{"g":2,"y":-10.48},{"g":2,"y":-10.7},{"g":2,"y":-10.94},{"g":2,"y":-11.2},{"g":2,"y":-11.46},{"g":2,"y":-11.7},{"g":2,"y":-11.92},{"g":2,"y":-12.2},{"g":2,"y":-12.42},{"g":2,"y":-12.6},{"g":2,"y":-12.91},{"g":2,"y":-13.18},{"g":2,"y":-13.93},{"g":2,"y":-14.76},{"g":2,"y":-15.38},{"g":2,"y":-16.53},
    {"g":3,"y":-3.16},{"g":3,"y":-3.3},{"g":3,"y":-3.48},{"g":3,"y":-3.65},{"g":3,"y":-3.85},{"g":3,"y":-4.0},{"g":3,"y":-4.19},{"g":3,"y":-4.35},{"g":3,"y":-4.53},{"g":3,"y":-4.7},{"g":3,"y":-4.88},{"g":3,"y":-5.05},{"g":3,"y":-5.22},{"g":3,"y":-5.38},{"g":3,"y":-5.54},{"g":3,"y":-5.7},{"g":3,"y":-5.91},{"g":3,"y":-6.07},{"g":3,"y":-6.36},{"g":3,"y":-6.68},{"g":3,"y":-7.05},
    {"g":4,"y":-2.8},{"g":4,"y":-3.0},{"g":4,"y":-3.2},{"g":4,"y":-3.4},{"g":4,"y":-3.6},{"g":4,"y":-3.74},{"g":4,"y":-3.89},{"g":4,"y":-4.39},{"g":4,"y":-4.58},{"g":4,"y":-4.86},{"g":4,"y":-5.06},{"g":4,"y":-5.79}
  ],
  "rugxs": [{"g":1,"a":20.6,"b":38.0},{"g":2,"a":17.0,"b":44.1},{"g":3,"a":17.15,"b":40.5},{"g":4,"a":17.45,"b":32.0}],
  "rugys": [{"g":1,"a":-5.47,"b":1.82},{"g":2,"a":-5.6,"b":1.63},{"g":3,"a":-2.98,"b":1.14},{"g":4,"a":-2.6,"b":3.33}]
},
"concat": [
  {
    "width": 281, "height": 289,
    "resolve": {"axis": {"x": "independent", "y": "independent"}},
    "layer": [
      {"data": {"name": "band"}, "transform": [{"filter": "datum.g === 1"}],
       "mark": {"type": "area", "interpolate": "step", "color": "#9ef09e", "opacity": 0.5, "clip": true},
       "encoding": {
         "x": {"field": "x", "type": "quantitative", "scale": {"domain": [14.64, 59.0], "nice": false, "zero": false},
               "axis": {"orient": "bottom", "title": null, "tickCount": 100, "values": [17.5,22.5,27.5,32.5,37.5,42.5,47.5,52.5,57.5], "labels": false, "ticks": false, "domain": false, "grid": true, "gridWidth": 0.6, "gridColor": "#e8e8e8", "minExtent": 0, "maxExtent": 0}},
         "y": {"field": "lo", "type": "quantitative", "scale": {"domain": [-12.84, 5.82], "nice": false, "zero": false},
               "axis": {"orient": "left", "title": null, "tickCount": 100, "values": [-12.5,-11.5,-10.5,-9.5,-8.5,-7.5,-6.5,-5.5,-4.5,-3.5,-2.5,-1.5,-0.5,0.5,1.5,2.5,3.5,4.5,5.5], "labels": false, "ticks": false, "domain": false, "grid": true, "gridWidth": 0.6, "gridColor": "#e8e8e8", "minExtent": 0, "maxExtent": 0}},
         "y2": {"field": "hi"}
       }},
      {"layer": [
        {"data": {"name": "band"}, "transform": [{"filter": "datum.g === 1"}],
         "mark": {"type": "area", "interpolate": "basis", "color": "#9ef09e", "clip": true},
         "encoding": {
           "x": {"field": "x", "type": "quantitative", "title": "BMI (GOLD 1)", "axis": {"orient": "bottom", "tickCount": 100, "values": [15,20,25,30,35,40,45,50,55], "labelExpr": "'' + datum.value", "grid": true}},
           "y": {"field": "lo", "type": "quantitative", "title": "s(VAS)", "axis": {"orient": "left", "tickCount": 100, "values": [-12,-11,-10,-9,-8,-7,-6,-5,-4,-3,-2,-1,0,1,2,3,4,5], "labelExpr": "'' + datum.value", "grid": true}},
           "y2": {"field": "hi"}}},
        {"data": {"name": "fit"}, "transform": [{"filter": "datum.g === 1"}],
         "mark": {"type": "line", "interpolate": "monotone", "color": "#0a3a0a", "strokeWidth": 2, "clip": true},
         "encoding": {"x": {"field": "x", "type": "quantitative", "title": "BMI (GOLD 1)"}, "y": {"field": "y", "type": "quantitative", "title": "s(VAS)"}}},
        {"data": {"name": "rugys"}, "transform": [{"filter": "datum.g === 1"}],
         "mark": {"type": "rect", "color": "#000000"},
         "encoding": {"x": {"datum": 14.64}, "x2": {"datum": 16.06}, "y": {"field": "a", "type": "quantitative", "title": "s(VAS)"}, "y2": {"field": "b"}}},
        {"data": {"name": "rugxs"}, "transform": [{"filter": "datum.g === 1"}],
         "mark": {"type": "rect", "color": "#000000"},
         "encoding": {"x": {"field": "a", "type": "quantitative", "title": "BMI (GOLD 1)"}, "x2": {"field": "b"}, "y": {"datum": -12.84}, "y2": {"datum": -12.27}}},
        {"data": {"name": "rugx"}, "transform": [{"filter": "datum.g === 1"}],
         "mark": {"type": "rule", "color": "#000000", "strokeWidth": 0.7},
         "encoding": {"x": {"field": "x", "type": "quantitative", "title": "BMI (GOLD 1)"}, "y": {"datum": -12.84}, "y2": {"datum": -12.27}}}
      ]}
    ]
  },
  {
    "width": 281, "height": 289,
    "resolve": {"axis": {"x": "independent", "y": "independent"}},
    "layer": [
      {"data": {"name": "band"}, "transform": [{"filter": "datum.g === 2"}],
       "mark": {"type": "area", "interpolate": "step", "color": "#aed6f7", "opacity": 0.5, "clip": true},
       "encoding": {
         "x": {"field": "x", "type": "quantitative", "scale": {"domain": [10.61, 61.77], "nice": false, "zero": false},
               "axis": {"orient": "bottom", "title": null, "tickCount": 100, "values": [12.5,17.5,22.5,27.5,32.5,37.5,42.5,47.5,52.5,57.5], "labels": false, "ticks": false, "domain": false, "grid": true, "gridWidth": 0.6, "gridColor": "#e8e8e8", "minExtent": 0, "maxExtent": 0}},
         "y": {"field": "lo", "type": "quantitative", "scale": {"domain": [-23.28, 5.25], "nice": false, "zero": false},
               "axis": {"orient": "left", "title": null, "tickCount": 100, "values": [-23,-21,-19,-17,-15,-13,-11,-9,-7,-5,-3,-1,1,3,5], "labels": false, "ticks": false, "domain": false, "grid": true, "gridWidth": 0.6, "gridColor": "#e8e8e8", "minExtent": 0, "maxExtent": 0}},
         "y2": {"field": "hi"}
       }},
      {"layer": [
        {"data": {"name": "band"}, "transform": [{"filter": "datum.g === 2"}],
         "mark": {"type": "area", "interpolate": "basis", "color": "#aed6f7", "clip": true},
         "encoding": {
           "x": {"field": "x", "type": "quantitative", "title": "BMI (GOLD 2)", "axis": {"orient": "bottom", "tickCount": 100, "values": [15,20,25,30,35,40,45,50,55,60], "labelExpr": "'' + datum.value", "grid": true}},
           "y": {"field": "lo", "type": "quantitative", "title": "s(VAS)", "axis": {"orient": "left", "tickCount": 100, "values": [-22,-20,-18,-16,-14,-12,-10,-8,-6,-4,-2,0,2,4], "labelExpr": "'' + datum.value", "grid": true}},
           "y2": {"field": "hi"}}},
        {"data": {"name": "fit"}, "transform": [{"filter": "datum.g === 2"}],
         "mark": {"type": "line", "interpolate": "monotone", "color": "#0c2236", "strokeWidth": 2, "clip": true},
         "encoding": {"x": {"field": "x", "type": "quantitative", "title": "BMI (GOLD 2)"}, "y": {"field": "y", "type": "quantitative", "title": "s(VAS)"}}},
        {"data": {"name": "rugys"}, "transform": [{"filter": "datum.g === 2"}],
         "mark": {"type": "rect", "color": "#000000"},
         "encoding": {"x": {"datum": 10.61}, "x2": {"datum": 12.26}, "y": {"field": "a", "type": "quantitative", "title": "s(VAS)"}, "y2": {"field": "b"}}},
        {"data": {"name": "rugy"}, "transform": [{"filter": "datum.g === 2"}],
         "mark": {"type": "rule", "color": "#000000", "strokeWidth": 0.7},
         "encoding": {"x": {"datum": 10.61}, "x2": {"datum": 12.26}, "y": {"field": "y", "type": "quantitative", "title": "s(VAS)"}}},
        {"data": {"name": "rugxs"}, "transform": [{"filter": "datum.g === 2"}],
         "mark": {"type": "rect", "color": "#000000"},
         "encoding": {"x": {"field": "a", "type": "quantitative", "title": "BMI (GOLD 2)"}, "x2": {"field": "b"}, "y": {"datum": -23.28}, "y2": {"datum": -22.39}}},
        {"data": {"name": "rugx"}, "transform": [{"filter": "datum.g === 2"}],
         "mark": {"type": "rule", "color": "#000000", "strokeWidth": 0.7},
         "encoding": {"x": {"field": "x", "type": "quantitative", "title": "BMI (GOLD 2)"}, "y": {"datum": -23.28}, "y2": {"datum": -22.39}}}
      ]}
    ]
  },
  {
    "width": 281, "height": 289,
    "resolve": {"axis": {"x": "independent", "y": "independent"}},
    "layer": [
      {"data": {"name": "band"}, "transform": [{"filter": "datum.g === 3"}],
       "mark": {"type": "area", "interpolate": "step", "color": "#fde0a8", "opacity": 0.5, "clip": true},
       "encoding": {
         "x": {"field": "x", "type": "quantitative", "scale": {"domain": [11.01, 61.3], "nice": false, "zero": false},
               "axis": {"orient": "bottom", "title": null, "tickCount": 100, "values": [12.5,17.5,22.5,27.5,32.5,37.5,42.5,47.5,52.5,57.5], "labels": false, "ticks": false, "domain": false, "grid": true, "gridWidth": 0.6, "gridColor": "#e8e8e8", "minExtent": 0, "maxExtent": 0}},
         "y": {"field": "lo", "type": "quantitative", "scale": {"domain": [-14.87, 4.91], "nice": false, "zero": false},
               "axis": {"orient": "left", "title": null, "tickCount": 100, "values": [-13,-11,-9,-7,-5,-3,-1,1,3], "labels": false, "ticks": false, "domain": false, "grid": true, "gridWidth": 0.6, "gridColor": "#e8e8e8", "minExtent": 0, "maxExtent": 0}},
         "y2": {"field": "hi"}
       }},
      {"layer": [
        {"data": {"name": "band"}, "transform": [{"filter": "datum.g === 3"}],
         "mark": {"type": "area", "interpolate": "basis", "color": "#fde0a8", "clip": true},
         "encoding": {
           "x": {"field": "x", "type": "quantitative", "title": "BMI (GOLD 3)", "axis": {"orient": "bottom", "tickCount": 100, "values": [15,20,25,30,35,40,45,50,55,60], "labelExpr": "'' + datum.value", "grid": true}},
           "y": {"field": "lo", "type": "quantitative", "title": "s(VAS)", "axis": {"orient": "left", "tickCount": 100, "values": [-14,-12,-10,-8,-6,-4,-2,0,2,4], "labelExpr": "'' + datum.value", "grid": true}},
           "y2": {"field": "hi"}}},
        {"data": {"name": "fit"}, "transform": [{"filter": "datum.g === 3"}],
         "mark": {"type": "line", "interpolate": "monotone", "color": "#2e1e05", "strokeWidth": 2, "clip": true},
         "encoding": {"x": {"field": "x", "type": "quantitative", "title": "BMI (GOLD 3)"}, "y": {"field": "y", "type": "quantitative", "title": "s(VAS)"}}},
        {"data": {"name": "rugys"}, "transform": [{"filter": "datum.g === 3"}],
         "mark": {"type": "rect", "color": "#000000"},
         "encoding": {"x": {"datum": 11.01}, "x2": {"datum": 12.6}, "y": {"field": "a", "type": "quantitative", "title": "s(VAS)"}, "y2": {"field": "b"}}},
        {"data": {"name": "rugy"}, "transform": [{"filter": "datum.g === 3"}],
         "mark": {"type": "rule", "color": "#000000", "strokeWidth": 0.7},
         "encoding": {"x": {"datum": 11.01}, "x2": {"datum": 12.6}, "y": {"field": "y", "type": "quantitative", "title": "s(VAS)"}}},
        {"data": {"name": "rugxs"}, "transform": [{"filter": "datum.g === 3"}],
         "mark": {"type": "rect", "color": "#000000"},
         "encoding": {"x": {"field": "a", "type": "quantitative", "title": "BMI (GOLD 3)"}, "x2": {"field": "b"}, "y": {"datum": -14.87}, "y2": {"datum": -14.25}}},
        {"data": {"name": "rugx"}, "transform": [{"filter": "datum.g === 3"}],
         "mark": {"type": "rule", "color": "#000000", "strokeWidth": 0.7},
         "encoding": {"x": {"field": "x", "type": "quantitative", "title": "BMI (GOLD 3)"}, "y": {"datum": -14.87}, "y2": {"datum": -14.25}}}
      ]}
    ]
  },
  {
    "width": 281, "height": 289,
    "resolve": {"axis": {"x": "independent", "y": "independent"}},
    "layer": [
      {"data": {"name": "band"}, "transform": [{"filter": "datum.g === 4"}],
       "mark": {"type": "area", "interpolate": "step", "color": "#ffabab", "opacity": 0.5, "clip": true},
       "encoding": {
         "x": {"field": "x", "type": "quantitative", "scale": {"domain": [11.8, 51.27], "nice": false, "zero": false},
               "axis": {"orient": "bottom", "title": null, "tickCount": 100, "values": [12.5,17.5,22.5,27.5,32.5,37.5,42.5,47.5], "labels": false, "ticks": false, "domain": false, "grid": true, "gridWidth": 0.6, "gridColor": "#e8e8e8", "minExtent": 0, "maxExtent": 0}},
         "y": {"field": "lo", "type": "quantitative", "scale": {"domain": [-15.12, 9.12], "nice": false, "zero": false},
               "axis": {"orient": "left", "title": null, "tickCount": 100, "values": [-15,-13,-11,-9,-7,-5,-3,-1,1,3,5,7,9], "labels": false, "ticks": false, "domain": false, "grid": true, "gridWidth": 0.6, "gridColor": "#e8e8e8", "minExtent": 0, "maxExtent": 0}},
         "y2": {"field": "hi"}
       }},
      {"layer": [
        {"data": {"name": "band"}, "transform": [{"filter": "datum.g === 4"}],
         "mark": {"type": "area", "interpolate": "basis", "color": "#ffabab", "clip": true},
         "encoding": {
           "x": {"field": "x", "type": "quantitative", "title": "BMI (GOLD 4)", "axis": {"orient": "bottom", "tickCount": 100, "values": [15,20,25,30,35,40,45,50], "labelExpr": "'' + datum.value", "grid": true}},
           "y": {"field": "lo", "type": "quantitative", "title": "s(VAS)", "axis": {"orient": "left", "tickCount": 100, "values": [-14,-12,-10,-8,-6,-4,-2,0,2,4,6,8], "labelExpr": "'' + datum.value", "grid": true}},
           "y2": {"field": "hi"}}},
        {"data": {"name": "fit"}, "transform": [{"filter": "datum.g === 4"}],
         "mark": {"type": "line", "interpolate": "monotone", "color": "#3a0505", "strokeWidth": 2, "clip": true},
         "encoding": {"x": {"field": "x", "type": "quantitative", "title": "BMI (GOLD 4)"}, "y": {"field": "y", "type": "quantitative", "title": "s(VAS)"}}},
        {"data": {"name": "rugys"}, "transform": [{"filter": "datum.g === 4"}],
         "mark": {"type": "rect", "color": "#000000"},
         "encoding": {"x": {"datum": 11.8}, "x2": {"datum": 13.0}, "y": {"field": "a", "type": "quantitative", "title": "s(VAS)"}, "y2": {"field": "b"}}},
        {"data": {"name": "rugy"}, "transform": [{"filter": "datum.g === 4"}],
         "mark": {"type": "rule", "color": "#000000", "strokeWidth": 0.7},
         "encoding": {"x": {"datum": 11.8}, "x2": {"datum": 13.0}, "y": {"field": "y", "type": "quantitative", "title": "s(VAS)"}}},
        {"data": {"name": "rugxs"}, "transform": [{"filter": "datum.g === 4"}],
         "mark": {"type": "rect", "color": "#000000"},
         "encoding": {"x": {"field": "a", "type": "quantitative", "title": "BMI (GOLD 4)"}, "x2": {"field": "b"}, "y": {"datum": -15.12}, "y2": {"datum": -14.37}}},
        {"data": {"name": "rugx"}, "transform": [{"filter": "datum.g === 4"}],
         "mark": {"type": "rule", "color": "#000000", "strokeWidth": 0.7},
         "encoding": {"x": {"field": "x", "type": "quantitative", "title": "BMI (GOLD 4)"}, "y": {"datum": -15.12}, "y2": {"datum": -14.37}}}
      ]}
    ]
  }
]
}
